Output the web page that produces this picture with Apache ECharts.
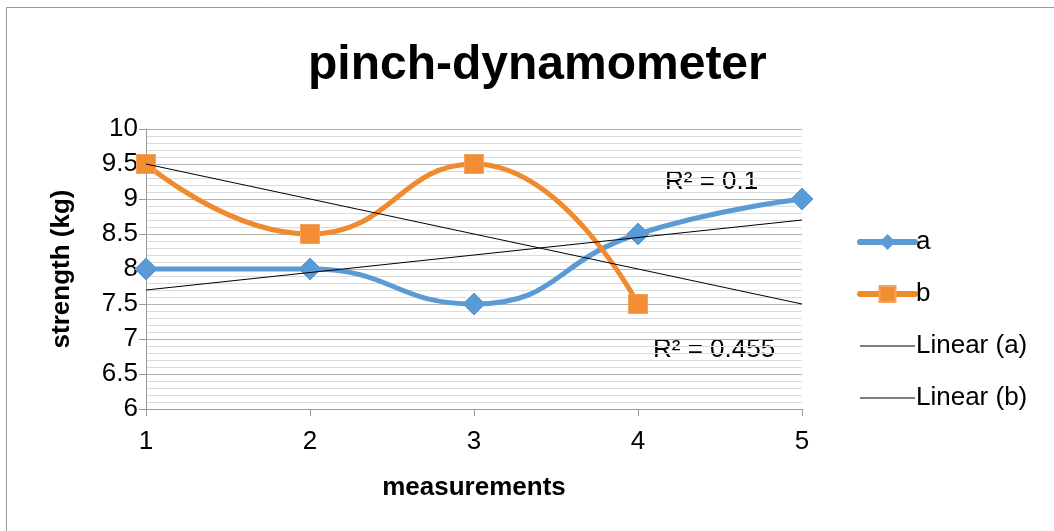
<!DOCTYPE html>
<html>
<head>
<meta charset="utf-8">
<script src="https://cdn.jsdelivr.net/npm/echarts@6/dist/echarts.min.js"></script>
<style>
  html, body { margin: 0; padding: 0; background: #fff; }
  #chart { width: 1054px; height: 531px; }
</style>
</head>
<body>
<div id="chart"></div>
<script>
// measurements 1..5
var measurements = [1, 2, 3, 4, 5]
var seriesA = [8, 8, 7.5, 8.5, 9]
var seriesB = [9.5, 8.5, 9.5, 7.5]
// trend line end points
var trendA = [[1, 7.7], [5, 8.7]]
var trendB = [[1, 9.5], [5, 7.5]]
var r2Labels = ['R² = 0.1', 'R² = 0.455']

var font = 'Liberation Sans, Arial, sans-serif'
var blue = '#5b9bd5'
var orange = '#f08a2e'

function pairs (xs, ys) {
  let out = []
  ys.forEach((y, i) => { out.push([xs[i], y]) })
  return out
}

var chart = echarts.init(document.getElementById('chart'))
var option = {
  backgroundColor: '#fff',
  animation: false,
  title: {
    text: 'pinch-dynamometer',
    left: 303,
    top: 37,
    textStyle: { fontFamily: font, fontSize: 48, fontWeight: 'bold', color: '#000' }
  },
  grid: { left: 146, right: 252, top: 129, bottom: 122, containLabel: false },
  legend: {
    orient: 'vertical',
    left: 857,
    top: 229,
    padding: 0,
    itemWidth: 55,
    itemHeight: 20,
    itemGap: 26,
    textStyle: { fontFamily: font, fontSize: 26, color: '#000', padding: [0, 0, 0, -4] },
    data: [
      { name: 'a', lineStyle: { width: 6, cap: 'round' } },
      { name: 'b', lineStyle: { width: 6, cap: 'round' } },
      { name: 'Linear (a)', itemStyle: { opacity: 0 }, lineStyle: { width: 1 } },
      { name: 'Linear (b)', itemStyle: { opacity: 0 }, lineStyle: { width: 1 } }
    ]
  },
  xAxis: {
    type: 'value',
    min: 1,
    max: 5,
    interval: 1,
    name: 'measurements',
    nameLocation: 'middle',
    nameGap: 66,
    nameTextStyle: { fontFamily: font, fontSize: 26, fontWeight: 'bold', color: '#000' },
    axisLine: { lineStyle: { color: '#999', width: 1 } },
    axisTick: { show: true, length: 7, lineStyle: { color: '#999' } },
    axisLabel: { fontFamily: font, fontSize: 26, color: '#000', margin: 20 },
    splitLine: { show: false }
  },
  yAxis: {
    type: 'value',
    min: 6,
    max: 10,
    interval: 0.5,
    name: 'strength (kg)',
    nameLocation: 'middle',
    nameGap: 71,
    nameTextStyle: { fontFamily: font, fontSize: 26, fontWeight: 'bold', color: '#000' },
    axisLine: { show: true, lineStyle: { color: '#999', width: 1 } },
    axisTick: { show: true, length: 7, lineStyle: { color: '#999' } },
    axisLabel: { fontFamily: font, fontSize: 26, color: '#000', margin: 8 },
    splitLine: { show: true, lineStyle: { color: '#b3b3b3', width: 1 } },
    minorTick: { show: false, splitNumber: 5 },
    minorSplitLine: { show: true, lineStyle: { color: '#dcdcdc', width: 1 } }
  },
  series: [
    {
      name: 'a',
      type: 'line',
      smooth: 0.5,
      data: pairs(measurements, seriesA),
      symbol: 'diamond',
      symbolSize: 22,
      lineStyle: { color: blue, width: 5 },
      itemStyle: { color: blue, borderColor: blue },
      z: 3
    },
    {
      name: 'b',
      type: 'line',
      smooth: 0.5,
      data: pairs(measurements, seriesB),
      symbol: 'rect',
      symbolSize: 19,
      lineStyle: { color: orange, width: 5 },
      itemStyle: { color: '#f38d33', borderColor: '#f5a35c', borderWidth: 1 },
      z: 3
    },
    {
      name: 'Linear (a)',
      type: 'line',
      data: trendA,
      symbol: 'none',
      lineStyle: { color: '#000', width: 1 },
      itemStyle: { color: '#000' },
      z: 4
    },
    {
      name: 'Linear (b)',
      type: 'line',
      data: trendB,
      symbol: 'none',
      lineStyle: { color: '#000', width: 1 },
      itemStyle: { color: '#000' },
      z: 4
    }
  ],
  graphic: [
    {
      type: 'rect',
      shape: { x: 6.5, y: 7.5, width: 1200, height: 800 },
      style: { fill: 'none', stroke: '#999', lineWidth: 1 },
      silent: true
    },
    {
      type: 'text',
      left: 665,
      top: 169,
      style: { text: r2Labels[0], fontFamily: font, fontSize: 26, fill: '#000' }
    },
    {
      type: 'text',
      left: 653,
      top: 337,
      style: { text: r2Labels[1], fontFamily: font, fontSize: 26, fill: '#000' }
    }
  ]
}
chart.setOption(option)
window.addEventListener('resize', function () {
  chart.resize()
})
</script>
</body>
</html>
